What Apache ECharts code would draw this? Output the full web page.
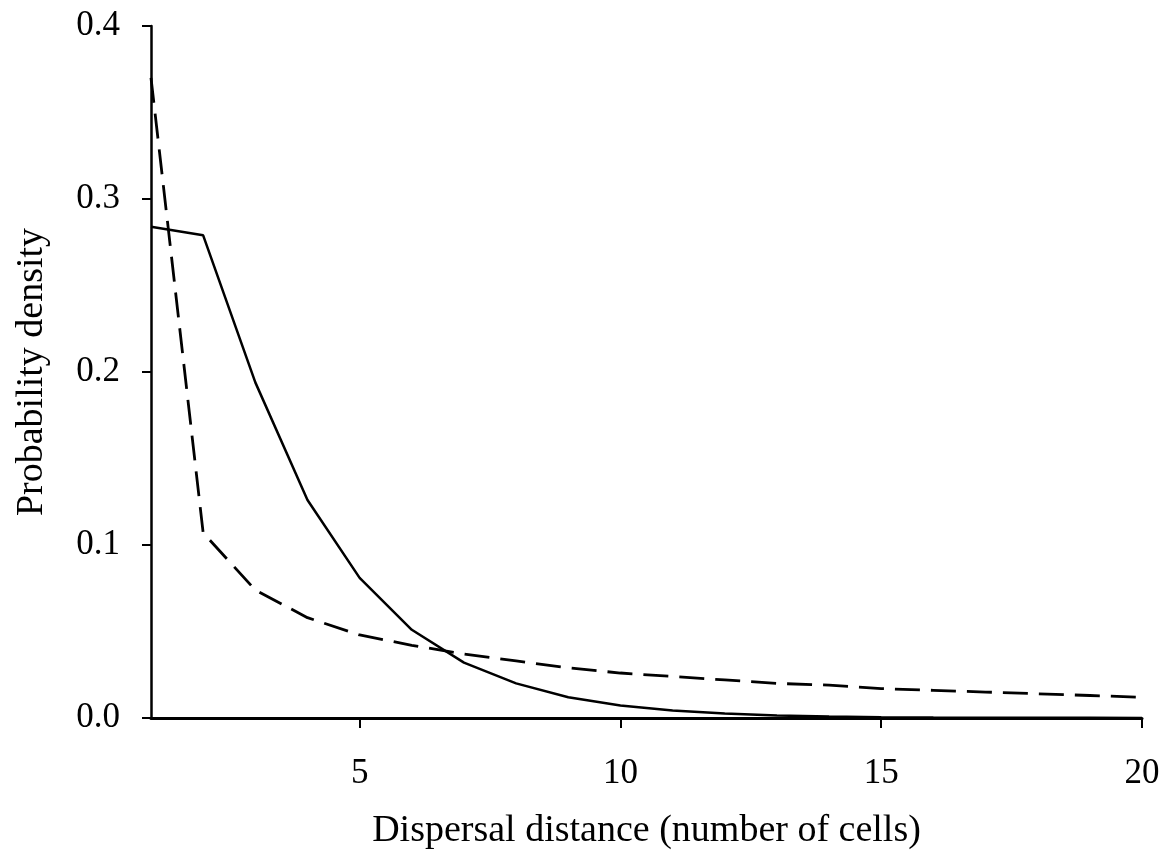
<!DOCTYPE html>
<html>
<head>
<meta charset="utf-8">
<script src="https://cdn.jsdelivr.net/npm/echarts@6/dist/echarts.min.js"></script>
<style>
  html, body { margin: 0; padding: 0; background: #fff; }
  #chart { width: 1171px; height: 861px; }
</style>
</head>
<body>
<div id="chart"></div>
<script>
// Dispersal distance in cells
var distances = [1, 2, 3, 4, 5, 6, 7, 8, 9, 10, 11, 12, 13, 14, 15, 16, 17, 18, 19, 20];
// Solid kernel
var solidDensity = [0.284, 0.279, 0.194, 0.126, 0.081, 0.051, 0.032, 0.020, 0.012, 0.0072,
                    0.0043, 0.0026, 0.0015, 0.0009, 0.0005, 0.0003, 0.0002, 0.0001, 0.0001, 0.0000];
// Dashed (fat-tailed) kernel
var dashedDensity = [0.370, 0.107, 0.074, 0.058, 0.048, 0.042, 0.037, 0.033, 0.029, 0.026,
                     0.024, 0.022, 0.020, 0.019, 0.017, 0.016, 0.015, 0.014, 0.013, 0.012];
var xTicks = [5, 10, 15, 20];

function pairs(xs, ys) {
  return xs.map(function (x, i) { return [x, ys[i]]; });
}

var font = 'Liberation Serif';
var chart = echarts.init(document.getElementById('chart'), null, { renderer: 'canvas' });

chart.setOption({
  backgroundColor: '#ffffff',
  animation: false,
  grid: { left: 151, right: 29, top: 26, bottom: 143, containLabel: false },
  xAxis: {
    type: 'value',
    min: 1,
    max: 20,
    name: 'Dispersal distance (number of cells)',
    nameLocation: 'middle',
    nameGap: 94,
    nameTextStyle: { fontFamily: font, fontSize: 38, color: '#000' },
    axisLine: { show: true, onZero: false, lineStyle: { color: '#000', width: 3 } },
    axisTick: { show: true, inside: false, length: 10, customValues: xTicks,
                lineStyle: { color: '#000', width: 2 } },
    axisLabel: { customValues: xTicks, margin: 38, fontFamily: font, fontSize: 35, color: '#000' },
    splitLine: { show: false }
  },
  yAxis: {
    type: 'value',
    min: 0,
    max: 0.4,
    interval: 0.1,
    name: 'Probability density',
    nameLocation: 'middle',
    nameGap: 100,
    nameRotate: 90,
    nameTextStyle: { fontFamily: font, fontSize: 38, color: '#000' },
    axisLine: { show: true, lineStyle: { color: '#000', width: 2.5 } },
    axisTick: { show: true, inside: false, length: 9, lineStyle: { color: '#000', width: 2 } },
    axisLabel: {
      margin: 31, fontFamily: font, fontSize: 35, color: '#000',
      formatter: function (v) { return v.toFixed(1); }
    },
    splitLine: { show: false }
  },
  series: [
    {
      type: 'line',
      data: pairs(distances, solidDensity),
      symbol: 'none',
      lineStyle: { color: '#000', width: 2.5, type: 'solid' },
      z: 3
    },
    {
      type: 'line',
      data: pairs(distances, dashedDensity),
      symbol: 'none',
      lineStyle: { color: '#000', width: 2.8, type: [25, 11] },
      z: 2
    }
  ]
});
</script>
</body>
</html>
